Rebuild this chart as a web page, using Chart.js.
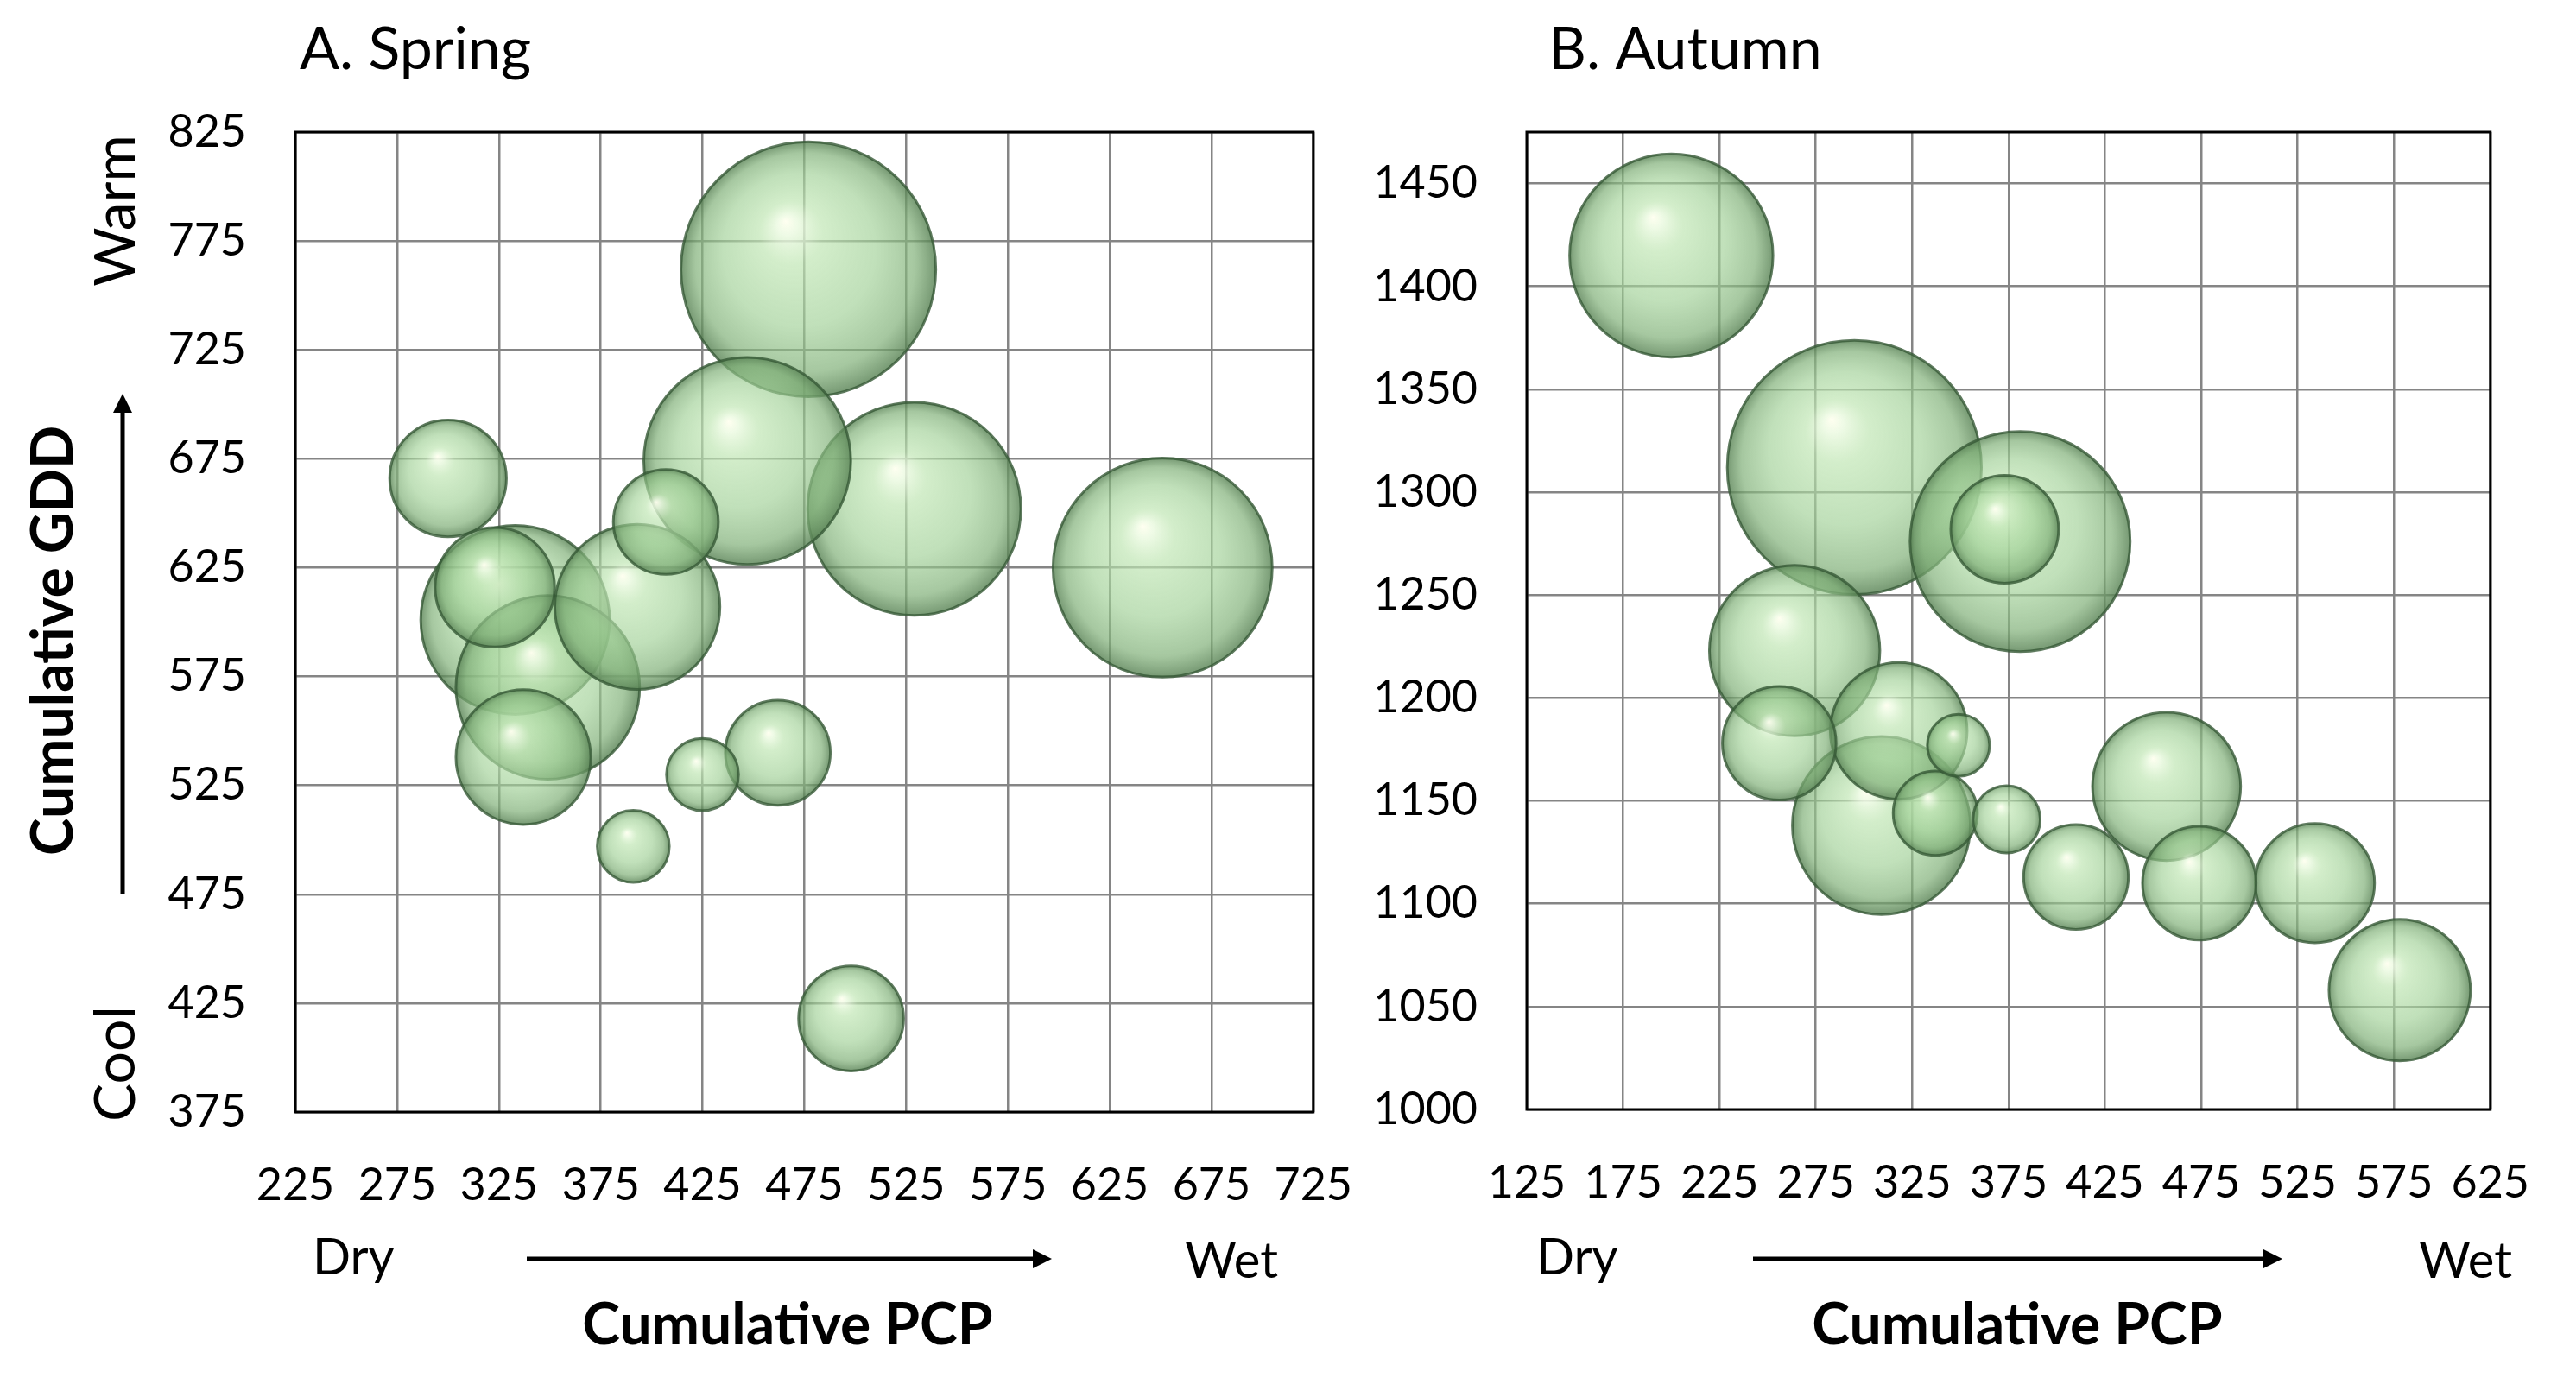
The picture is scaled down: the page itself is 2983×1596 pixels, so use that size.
<!DOCTYPE html>
<html>
<head>
<meta charset="utf-8">
<script src="https://cdn.jsdelivr.net/npm/chart.js@4/dist/chart.umd.min.js"></script>
<style>
html, body { margin:0; padding:0; background:#ffffff; width:2983px; height:1596px; overflow:hidden; }
canvas { position:absolute; top:0; }
#spring { left:0; }
#autumn { left:1540px; }
</style>
</head>
<body>
<canvas id="spring" width="1620" height="1596"></canvas>
<canvas id="autumn" width="1443" height="1596"></canvas>
<script>
// ---------- DATA ----------
// A. Spring: cumulative precipitation (x), cumulative GDD (y), relative bubble size
const springPCP  = [477, 651, 529, 447, 333, 349, 393, 337, 300, 323, 462, 498, 407, 391, 425];
const springGDD  = [762, 625, 652, 674, 601, 570, 607, 538, 666, 616, 540, 418, 646, 497, 530];
const springSize = [100, 74, 70, 66, 55, 52, 42, 28, 21, 22, 17, 17, 17, 8, 8];

// B. Autumn
const autumnPCP  = [295, 381, 200, 309, 264, 457, 578, 318, 534, 474, 256, 373, 410, 337, 374, 349];
const autumnGDD  = [1312, 1276, 1415, 1138, 1223, 1157, 1058, 1184, 1110, 1110, 1178, 1282, 1113, 1144, 1141, 1177];
const autumnSize = [100, 75, 64, 49, 45, 34, 31, 29, 22, 20, 20, 18, 17, 11, 7, 6];

// Tick labels / axis ranges
const springXTicks = [225, 275, 325, 375, 425, 475, 525, 575, 625, 675, 725];
const springYTicks = [375, 425, 475, 525, 575, 625, 675, 725, 775, 825];
const autumnXTicks = [125, 175, 225, 275, 325, 375, 425, 475, 525, 575, 625];
const autumnYTicks = [1000, 1050, 1100, 1150, 1200, 1250, 1300, 1350, 1400, 1450];
const springXRange = [225, 725];
const springYRange = [375, 825];
const autumnXRange = [125, 625];
const autumnYRange = [1000, 1475];

// ---------- DRAWING ----------
const FONT = 'Lato, "Open Sans", sans-serif';

function drawArrow(ctx, a) {
  const dx = a.x2 - a.x1, dy = a.y2 - a.y1;
  const len = Math.hypot(dx, dy);
  const ux = dx / len, uy = dy / len;
  const hl = 22, hw = 11;
  ctx.save();
  ctx.strokeStyle = '#000';
  ctx.fillStyle = '#000';
  ctx.lineWidth = 5;
  ctx.beginPath();
  ctx.moveTo(a.x1, a.y1);
  ctx.lineTo(a.x2 - ux * hl, a.y2 - uy * hl);
  ctx.stroke();
  ctx.beginPath();
  ctx.moveTo(a.x2, a.y2);
  ctx.lineTo(a.x2 - ux * hl - uy * hw, a.y2 - uy * hl + ux * hw);
  ctx.lineTo(a.x2 - ux * hl + uy * hw, a.y2 - uy * hl - ux * hw);
  ctx.closePath();
  ctx.fill();
  ctx.restore();
}

function makeAnnot(spec) {
  return {
    id: 'annot',
    afterDraw(chart) {
      const ctx = chart.ctx;
      const ca = chart.chartArea;
      ctx.save();
      ctx.strokeStyle = '#000';
      ctx.lineWidth = 3;
      ctx.strokeRect(ca.left, ca.top, ca.right - ca.left, ca.bottom - ca.top);
      ctx.fillStyle = '#000';
      spec.texts.forEach(t => {
        ctx.save();
        ctx.font = t.font;
        ctx.textAlign = t.align || 'left';
        ctx.textBaseline = t.baseline || 'alphabetic';
        ctx.translate(t.x, t.y);
        if (t.rot) ctx.rotate(t.rot);
        ctx.fillText(t.text, 0, 0);
        ctx.restore();
      });
      spec.arrows.forEach(a => drawArrow(ctx, a));
      ctx.restore();
    }
  };
}

function makeChart(id, pcp, gdd, size, xTicks, yTicks, xRange, yRange, area, annot) {
  const maxS = Math.max(...size);
  // largest bubble diameter ~ 26% of the smaller plot dimension (bubble area proportional to size)
  const rMax = 0.13 * Math.min(area.right - area.left, area.bottom - area.top);
  const data = pcp.map((x, i) => ({ x: x, y: gdd[i], r: rMax * Math.sqrt(size[i] / maxS) }));
  const bgFn = (c) => {
    const chart = c.chart;
    const ca = chart.chartArea;
    if (!ca || !c.raw || !chart.scales.x) return 'rgba(160,208,150,0.65)';
    const cx = chart.scales.x.getPixelForValue(c.raw.x);
    const cy = chart.scales.y.getPixelForValue(c.raw.y);
    const r = Math.max(c.raw.r, 1);
    if (!isFinite(cx) || !isFinite(cy)) return 'rgba(160,208,150,0.65)';
    const g = chart.ctx.createRadialGradient(cx - 0.18 * r, cy - 0.38 * r, 0, cx, cy, r);
    g.addColorStop(0.00, 'rgba(255,255,240,0.95)');
    g.addColorStop(0.08, 'rgba(236,250,226,0.86)');
    g.addColorStop(0.25, 'rgba(192,230,180,0.70)');
    g.addColorStop(0.60, 'rgba(160,208,150,0.66)');
    g.addColorStop(0.86, 'rgba(128,176,120,0.70)');
    g.addColorStop(1.00, 'rgba(88,130,84,0.82)');
    return g;
  };
  const canvas = document.getElementById(id);
  const W = canvas.width, H = canvas.height;
  const tickFont = { family: FONT, size: 52 };
  return new Chart(canvas, {
    type: 'bubble',
    data: { datasets: [{ data: data, backgroundColor: bgFn,
      borderColor: 'rgba(55,90,55,0.8)', borderWidth: 3 }] },
    plugins: [makeAnnot(annot)],
    options: {
      responsive: false,
      devicePixelRatio: 1,
      animation: false,
      events: [],
      layout: { autoPadding: false, padding: { left: 0, top: area.top, right: W - area.right, bottom: 0 } },
      plugins: { legend: { display: false }, tooltip: { enabled: false }, title: { display: false } },
      scales: {
        x: {
          type: 'linear', position: 'bottom', min: xRange[0], max: xRange[1],
          afterBuildTicks: s => { s.ticks = xTicks.map(v => ({ value: v })); },
          afterFit: s => { s.height = H - area.bottom; },
          grid: { color: '#858585', lineWidth: 2.5, drawTicks: false },
          border: { display: false },
          ticks: { color: '#000', font: tickFont, padding: 54, autoSkip: false, maxRotation: 0, minRotation: 0,
                   callback: v => String(v) }
        },
        y: {
          type: 'linear', position: 'left', min: yRange[0], max: yRange[1],
          afterBuildTicks: s => { s.ticks = yTicks.map(v => ({ value: v })); },
          afterFit: s => { s.width = area.left; },
          grid: { color: '#858585', lineWidth: 2.5, drawTicks: false },
          border: { display: false },
          ticks: { color: '#000', font: tickFont, padding: 57, autoSkip: false, callback: v => String(v) }
        }
      }
    }
  });
}

function build() {
  const textFont = '58px ' + FONT;
  const sideFont = '66px ' + FONT;
  const titleFont = '68px ' + FONT;
  const axisFont = 'bold 66px ' + FONT;

  makeChart('spring', springPCP, springGDD, springSize, springXTicks, springYTicks,
    springXRange, springYRange,
    { left: 342, right: 1527, top: 153, bottom: 1288 },
    {
      texts: [
        { text: 'A. Spring', x: 347, y: 80, font: titleFont },
        { text: 'Warm', x: 135, y: 244, font: sideFont, align: 'center', baseline: 'middle', rot: -Math.PI / 2 },
        { text: 'Cool', x: 135, y: 1232, font: sideFont, align: 'center', baseline: 'middle', rot: -Math.PI / 2 },
        { text: 'Cumulative GDD', x: 63, y: 742, font: axisFont, align: 'center', baseline: 'middle', rot: -Math.PI / 2 },
        { text: 'Dry', x: 362, y: 1476, font: textFont },
        { text: 'Wet', x: 1372, y: 1480, font: textFont },
        { text: 'Cumulative PCP', x: 912, y: 1557, font: axisFont, align: 'center' }
      ],
      arrows: [
        { x1: 142, y1: 1035, x2: 142, y2: 456 },
        { x1: 610, y1: 1458, x2: 1218, y2: 1458 }
      ]
    });

  makeChart('autumn', autumnPCP, autumnGDD, autumnSize, autumnXTicks, autumnYTicks,
    autumnXRange, autumnYRange,
    { left: 228, right: 1382, top: 153, bottom: 1285 },
    {
      texts: [
        { text: 'B. Autumn', x: 253, y: 80, font: titleFont },
        { text: 'Dry', x: 239, y: 1476, font: textFont },
        { text: 'Wet', x: 1261, y: 1480, font: textFont },
        { text: 'Cumulative PCP', x: 796, y: 1557, font: axisFont, align: 'center' }
      ],
      arrows: [
        { x1: 490, y1: 1458, x2: 1103, y2: 1458 }
      ]
    });
}

Promise.all([
  document.fonts.load('52px Lato'),
  document.fonts.load('bold 66px Lato')
]).catch(() => {}).then(build);
</script>
</body>
</html>
